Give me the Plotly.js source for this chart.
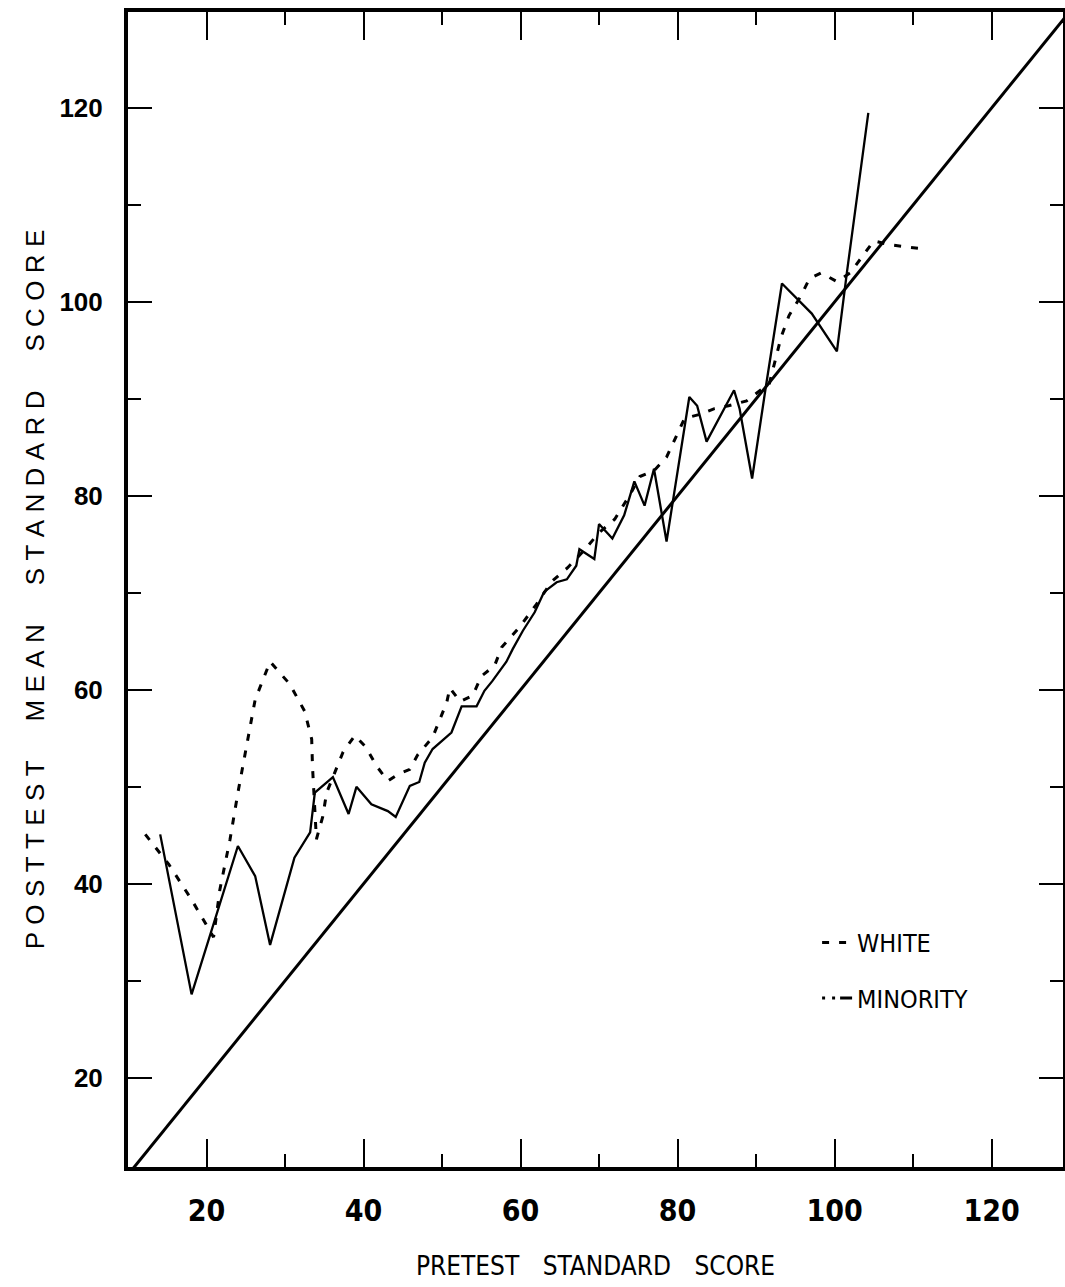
<!DOCTYPE html>
<html>
<head>
<meta charset="utf-8">
<script src="https://cdn.plot.ly/plotly-3.0.1.min.js"></script>
<style>
  html, body { margin: 0; padding: 0; background: #fff; }
  #chart { width: 1065px; height: 1287px; }
</style>
</head>
<body>
<div id="chart"></div>
<script>
// Diagonal reference line (posttest = pretest)
const diagX = [10, 130];
const diagY = [10, 130];

// WHITE group (dashed)
const whiteX = [12.2, 15.2, 18.0, 20.9, 21.7, 23.0, 24.0, 24.6, 26.2, 28.1, 30.6, 32.5, 33.4, 33.5, 33.8, 34.0,
  34.8, 35.3, 37.4, 38.9, 40.3, 41.7, 43.1, 44.4, 45.9, 46.9, 48.8, 50.6, 51.0, 52.3, 53.9, 55.0, 56.7, 57.6,
  60.0, 62.0, 64.0, 66.0, 68.0, 70.0, 72.0, 74.0, 75.2, 77.0, 78.6, 80.0, 80.9, 82.8, 84.7, 86.5, 88.8,
  91.7, 93.2, 94.2, 95.7, 96.8, 98.3, 100.3, 102.0, 105.0, 107.0, 108.9, 111.0];
const whiteY = [45.1, 42.0, 38.5, 34.5, 39.4, 44.6, 49.4, 52.0, 59.0, 62.9, 60.6, 57.8, 54.9, 52.1, 47.0, 44.6,
  46.9, 49.4, 53.6, 55.3, 54.1, 52.1, 50.6, 51.3, 51.8, 53.3, 55.1, 58.7, 60.2, 58.8, 59.4, 61.4, 62.5, 64.4,
  66.6, 68.8, 71.2, 72.6, 74.3, 76.2, 77.6, 80.2, 82.0, 82.6, 84.0, 86.4, 88.0, 88.4, 89.0, 89.3, 89.8,
  91.6, 96.4, 98.6, 100.6, 102.4, 103.0, 102.1, 103.0, 106.3, 105.9, 105.7, 105.5];

// MINORITY group (solid in plot)
const minorityX = [14.1, 18.1, 24.0, 26.2, 28.1, 31.2, 33.2, 33.8, 36.1, 38.1, 39.1, 41.0, 43.1, 44.1, 45.9,
  47.1, 47.8, 48.8, 51.2, 52.5, 54.4, 55.4, 56.4, 58.2, 59.0, 60.3, 61.8, 63.0, 64.6, 65.9, 67.1, 67.5, 69.4,
  70.0, 71.7, 73.2, 74.5, 75.8, 77.0, 78.6, 81.5, 82.5, 83.7, 87.2, 87.9, 89.5, 91.2, 93.3, 97.1, 100.3,
  101.6, 104.3];
const minorityY = [45.1, 28.6, 43.9, 40.8, 33.7, 42.7, 45.3, 49.4, 51.0, 47.2, 50.0, 48.2, 47.5, 46.9, 50.1,
  50.5, 52.5, 53.9, 55.6, 58.3, 58.3, 59.9, 60.9, 62.9, 64.2, 66.1, 68.0, 70.1, 71.1, 71.4, 72.8, 74.5, 73.5,
  77.1, 75.6, 78.0, 81.5, 79.0, 82.8, 75.3, 90.2, 89.3, 85.6, 90.9, 89.0, 81.8, 91.0, 101.9, 98.8, 94.9,
  103.2, 119.5];

// Axis ticks
const majorTicks = [20, 40, 60, 80, 100, 120];
const majorTickText = ["20", "40", "60", "80", "100", "120"];

const seriesNames = ["WHITE", "MINORITY"];

const condFont = '"Liberation Sans Narrow", "DejaVu Sans Condensed", "Roboto Condensed", "Arial Narrow", "Liberation Sans", sans-serif';

function spaced(s) {
  return s.split(" ").map(w => w.split("").join("\u2009\u200A")).join("\u2003\u2002");
}

const traces = [
  { x: diagX, y: diagY, mode: "lines", line: { color: "#000", width: 3 }, showlegend: false, hoverinfo: "skip" },
  { x: whiteX, y: whiteY, mode: "lines", name: seriesNames[0], legendgroup: "w",
    line: { color: "#000", width: 3, dash: "7px,10px" } },
  { x: minorityX, y: minorityY, mode: "lines", name: seriesNames[1], legendgroup: "m", showlegend: false,
    line: { color: "#000", width: 2.3 } },
  { x: [null], y: [null], mode: "lines", name: seriesNames[1], legendgroup: "m",
    line: { color: "#000", width: 3, dash: "3px,7px,3px,5px,20px,0px" } }
];

const axisCommon = {
  showgrid: false, zeroline: false,
  showline: true, linecolor: "#000", linewidth: 4, mirror: "ticks",
  ticks: "inside", tickcolor: "#000", tickwidth: 2,
  tickmode: "array", tickvals: majorTicks, ticktext: majorTickText,
  minor: { dtick: 10, ticks: "inside", ticklen: 13, tickwidth: 2, tickcolor: "#000", showgrid: false }
};

const layout = {
  width: 1065, height: 1287,
  margin: { l: 128, r: 2, t: 12, b: 120 },
  paper_bgcolor: "#fff", plot_bgcolor: "#fff",
  showlegend: true,
  legend: {
    x: 0.737, y: 0.214, xanchor: "left", yanchor: "top",
    bgcolor: "rgba(0,0,0,0)", traceorder: "grouped", tracegroupgap: 20,
    font: { family: condFont, size: 25, color: "#000" }
  },
  xaxis: Object.assign({}, axisCommon, {
    range: [10, 129.1], ticklen: 28, ticklabelstandoff: 14,
    tickfont: { family: condFont, size: 30, color: "#000", weight: "bold" },
    title: { text: "PRETEST\u2003STANDARD\u2003SCORE", font: { family: condFont, size: 26, color: "#000" }, standoff: 31 }
  }),
  yaxis: Object.assign({}, axisCommon, {
    range: [10.8, 129.9], ticklen: 24, ticklabelstandoff: 16,
    tickfont: { family: "Liberation Sans, sans-serif", size: 26, color: "#000", weight: "bold" },
    title: { text: spaced("POSTTEST MEAN STANDARD SCORE"), font: { family: "Liberation Sans, sans-serif", size: 26, color: "#000" }, standoff: 8 }
  })
};

Plotly.newPlot("chart", traces, layout, { displayModeBar: false, staticPlot: true });
</script>
</body>
</html>
